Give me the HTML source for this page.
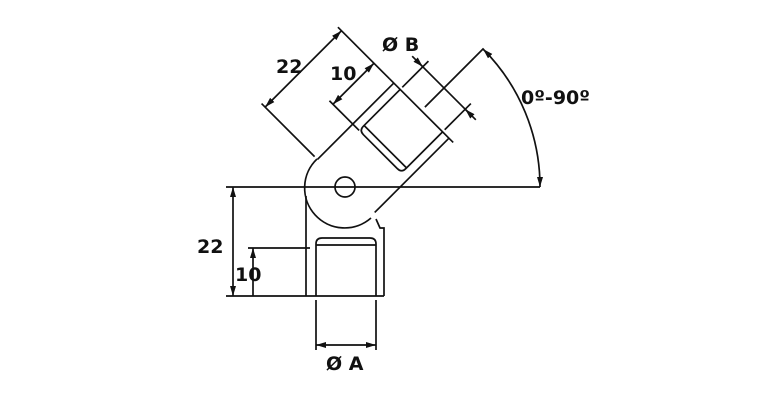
<!DOCTYPE html>
<html><head><meta charset="utf-8"><style>
html,body{margin:0;padding:0;background:#fff;}
svg{display:block}
text{font-family:"DejaVu Sans","Liberation Sans",sans-serif;font-weight:bold;fill:#111;font-size:19px}
</style></head><body>
<svg width="768" height="400" viewBox="0 0 768 400" xmlns="http://www.w3.org/2000/svg">
<defs>
<marker id="a" viewBox="0 0 10 10" refX="10" refY="5" markerWidth="6" markerHeight="6" orient="auto-start-reverse"><path d="M0,2 L10,5 L0,8 z" fill="#111"/></marker>
</defs>
<g stroke="#111" stroke-width="1.7" fill="none">
<line x1="226" y1="187" x2="540" y2="187"/>
<line x1="306" y1="196" x2="306" y2="296"/>
<path d="M376 219 L380 228 L384 228 L384 296"/>
<line x1="226" y1="296" x2="384" y2="296"/>
<path d="M316 296 L316 244 Q316 238 322 238 L370 238 Q376 238 376 244 L376 296"/>
<line x1="316" y1="245" x2="376" y2="245"/>
<path d="M317 159 A40 40 0 0 0 371 218"/>
<circle cx="345" cy="187" r="10"/>
<g transform="rotate(-135 345 187)">
<line x1="384" y1="187" x2="384" y2="295"/>
<line x1="306" y1="190" x2="306" y2="295"/>
<line x1="300" y1="295" x2="390" y2="295"/>
<path d="M315 295 L315 243 Q315 237 321 237 L369 237 Q375 237 375 243 L375 295"/>
<line x1="315" y1="244" x2="375" y2="244"/>
<line x1="388" y1="187" x2="463" y2="187"/>
<line x1="390" y1="295" x2="463" y2="295"/>
<line x1="458" y1="187" x2="458" y2="295" marker-start="url(#a)" marker-end="url(#a)"/>
<line x1="375" y1="237" x2="417" y2="237"/>
<line x1="412" y1="237" x2="412" y2="295" marker-start="url(#a)" marker-end="url(#a)"/>
<line x1="375" y1="298" x2="375" y2="335"/>
<line x1="315" y1="298" x2="315" y2="335"/>
<line x1="390" y1="327" x2="300" y2="327"/>
<line x1="384" y1="327" x2="375" y2="327" marker-end="url(#a)"/>
<line x1="306" y1="327" x2="315" y2="327" marker-end="url(#a)"/>
<line x1="345" y1="300" x2="345" y2="383"/>
</g>
<path d="M483 49 A195 195 0 0 1 540 187" marker-start="url(#a)" marker-end="url(#a)"/>
<line x1="233" y1="187" x2="233" y2="296" marker-start="url(#a)" marker-end="url(#a)"/>
<line x1="248" y1="248" x2="310" y2="248"/>
<line x1="253" y1="248" x2="253" y2="296" marker-start="url(#a)"/>
<line x1="316" y1="300" x2="316" y2="350"/>
<line x1="376" y1="300" x2="376" y2="350"/>
<line x1="316" y1="345" x2="376" y2="345" marker-start="url(#a)" marker-end="url(#a)"/>
</g>
<text x="276" y="73">22</text>
<text x="330" y="80">10</text>
<text x="382" y="51">Ø B</text>
<text x="521" y="104">0º-90º</text>
<text x="197" y="253">22</text>
<text x="235" y="281">10</text>
<text x="326" y="370">Ø A</text>
</svg>
</body></html>
